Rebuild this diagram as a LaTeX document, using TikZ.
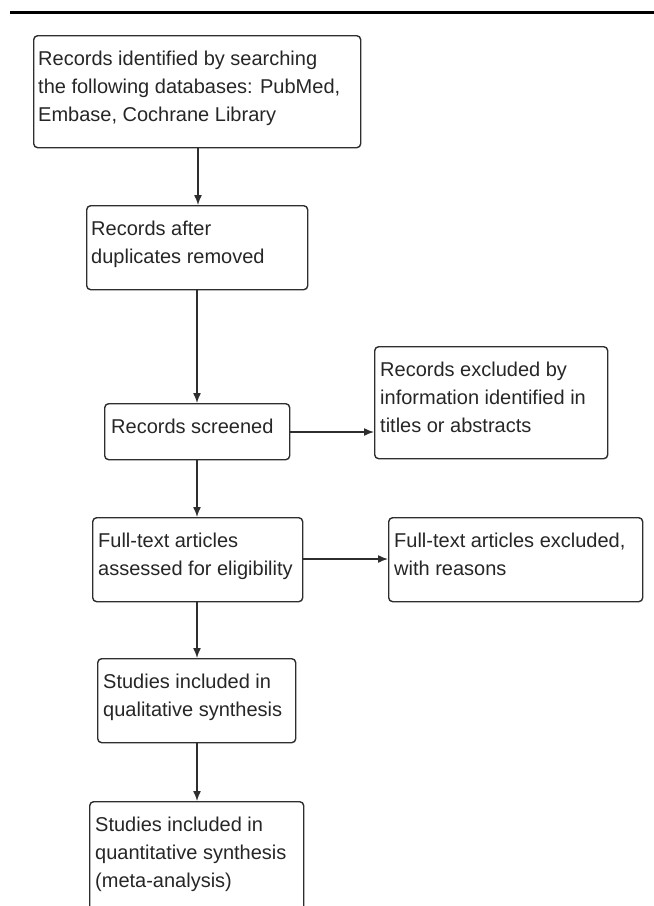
\documentclass[tikz,border=0pt]{standalone}
\usepackage{fontspec}
\setmainfont{Liberation Sans}
\usetikzlibrary{arrows.meta}
\definecolor{ink}{HTML}{2E2E2E}
\definecolor{txtc}{HTML}{262626}
\begin{document}
\begin{tikzpicture}[x=1pt,y=-1pt,
  box/.style={draw=ink, line width=1.4pt, rounded corners=4pt, anchor=north west, inner sep=0pt},
  txt/.style={anchor=north west, inner sep=0pt, align=left, text=txtc, font=\fontsize{20}{28}\selectfont},
  arr/.style={draw=ink, line width=1.4pt, -{Latex[length=10pt,width=8pt]}},
  rulestyle/.style={line width=3.5pt, draw=black}]
\useasboundingbox (0,0) rectangle (654,906);
\clip (0,0) rectangle (654,906);
\coordinate (r0) at (10,12.5);
\coordinate (r1) at (654,12.5);
\draw[rulestyle] (r0) -- (r1);

\node[box, minimum width=327pt, minimum height=112pt] (b1) at (33,35) {};
\node[txt] (t1) at (38,45.4) {\strut Records identified by searching\\the following databases: PubMed,\\Embase, Cochrane Library};

\node[box, minimum width=221pt, minimum height=84pt] (b2) at (86,205) {};
\node[txt] (t2) at (91,215.4) {\strut Records after\\duplicates removed};

\node[box, minimum width=185pt, minimum height=56pt] (b3) at (104,403) {};
\node[txt] (t3) at (111,413.4) {\strut Records screened};

\node[box, minimum width=233pt, minimum height=112pt] (b4) at (374,346) {};
\node[txt] (t4) at (380,356.4) {\strut Records excluded by\\information identified in\\titles or abstracts};

\node[box, minimum width=210pt, minimum height=84pt] (b5) at (92,517) {};
\node[txt] (t5) at (98,527.4) {\strut Full-text articles\\assessed for eligibility};

\node[box, minimum width=254pt, minimum height=84pt] (b6) at (388,517) {};
\node[txt] (t6) at (394,527.4) {\strut Full-text articles excluded,\\with reasons};

\node[box, minimum width=198pt, minimum height=84pt] (b7) at (97,658) {};
\node[txt] (t7) at (103,668.4) {\strut Studies included in\\qualitative synthesis};

\node[box, minimum width=214pt, minimum height=130pt] (b8) at (89,801) {};
\node[txt] (t8) at (95,811.4) {\strut Studies included in\\quantitative synthesis\\(meta-analysis)};

\coordinate (ax1) at (198,0);
\coordinate (ax2) at (197,0);
\coordinate (h1) at (0,432);
\coordinate (h2) at (0,559);
\draw[arr] (b1.south -| ax1) -- (b2.north -| ax1);
\draw[arr] (b2.south -| ax2) -- (b3.north -| ax2);
\draw[arr] (b3.south -| ax2) -- (b5.north -| ax2);
\draw[arr] (b5.south -| ax2) -- (b7.north -| ax2);
\draw[arr] (b7.south -| ax2) -- (b8.north -| ax2);
\draw[arr] (b3.east |- h1) -- (b4.west |- h1);
\draw[arr] (b5.east |- h2) -- (b6.west |- h2);
\end{tikzpicture}
\end{document}
